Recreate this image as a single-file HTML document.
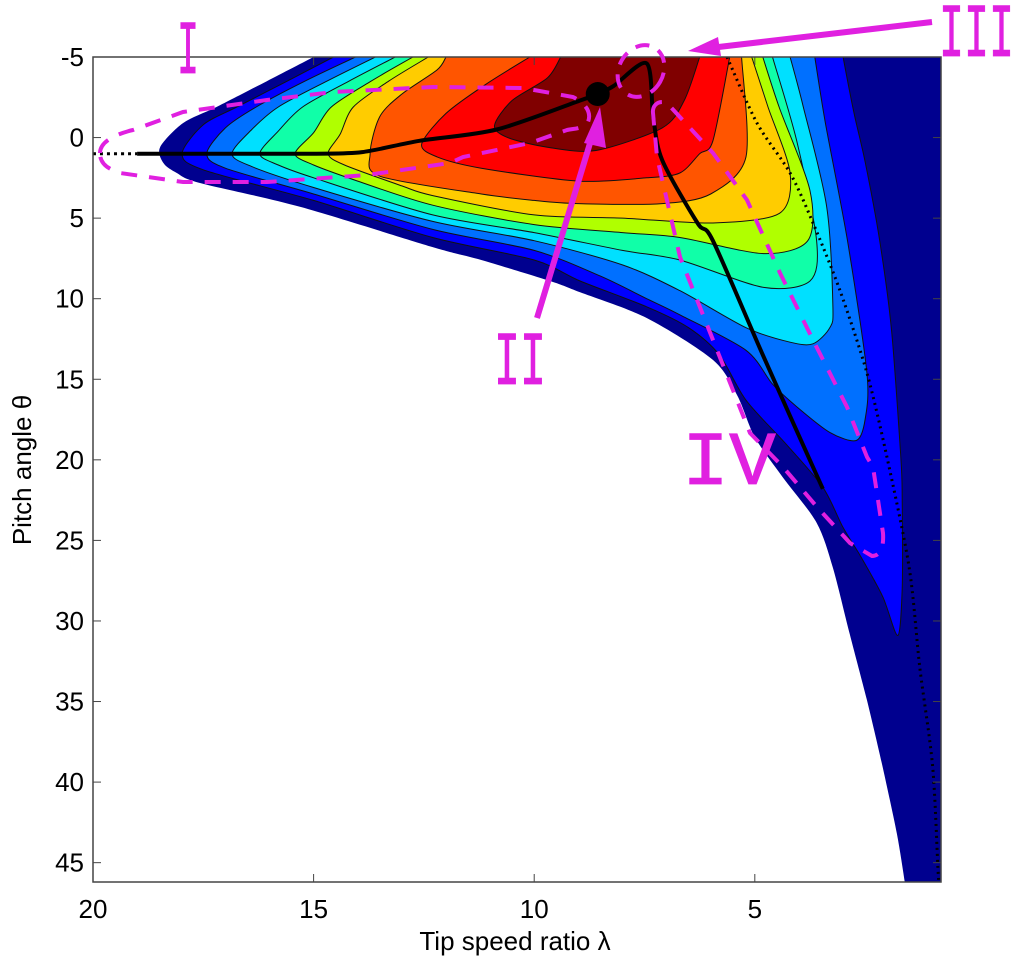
<!DOCTYPE html>
<html><head><meta charset="utf-8">
<style>
html,body{margin:0;padding:0;background:#fff;}
svg{display:block;font-family:"Liberation Sans",Arial,sans-serif;}
</style></head>
<body>
<svg id="chart" width="1031" height="972" viewBox="0 0 1031 972" xmlns="http://www.w3.org/2000/svg">
<defs><clipPath id="plotclip"><rect x="93" y="57" width="848" height="825"/></clipPath></defs>
<rect x="0" y="0" width="1031" height="972" fill="#fff"/>
<g id="bands" clip-path="url(#plotclip)"></g>
<g id="lines" clip-path="url(#plotclip)"></g>
<rect x="93" y="57" width="848" height="825" fill="none" stroke="#444" stroke-width="1.5"/>
<g id="axes"></g>
<g id="annot">
  <path d="M100,153 C100,140 120,133 133,130 L183,112 L267,100 L333,92 L433,87 L523,88 L573,97 C585,103 592,112 588,122 C580,130 575,128 567,130 L530,143 L463,157 L450,163 L367,175 L267,182 L183,182 L120,173 C105,168 100,162 100,153 Z" fill="none" stroke="#E020E0" stroke-width="4" stroke-dasharray="16,12"/>
  <ellipse cx="641" cy="71" rx="22" ry="27" transform="rotate(30 641 71)" fill="none" stroke="#E020E0" stroke-width="4" stroke-dasharray="14,10"/>
  <path d="M653,113 C652,104 660,100 667,103 L713,153 L747,200 L780,273 L813,340 L847,407 L867,457 L873,467 L883,533 C884,548 880,556 872,556 L850,543 L817,507 L783,467 L750,433 L713,340 L680,257 L657,157 Z" fill="none" stroke="#E020E0" stroke-width="4" stroke-dasharray="16,12"/>
  <line x1="932" y1="22" x2="710" y2="48" stroke="#E020E0" stroke-width="6"/>
  <polygon points="688,51 718,37 721,56" fill="#E020E0"/>
  <line x1="537" y1="318" x2="594" y2="130" stroke="#E020E0" stroke-width="6"/>
  <polygon points="600,107 584,143 606,148" fill="#E020E0"/>
  <g font-family="Liberation Mono, monospace" font-size="76" fill="#E020E0" stroke="#E020E0" stroke-width="0.8">
  <text x="177" y="73" textLength="22" lengthAdjust="spacingAndGlyphs">I</text>
  <text x="939" y="56" textLength="75" lengthAdjust="spacingAndGlyphs">III</text>
  <text x="494" y="384" textLength="52" lengthAdjust="spacingAndGlyphs">II</text>
  <text x="682" y="484" textLength="94" lengthAdjust="spacingAndGlyphs">IV</text>
  </g>
</g>
<text x="515" y="950" font-size="26" text-anchor="middle" fill="#000">Tip speed ratio λ</text>
<text transform="translate(31,470) rotate(-90)" font-size="26" text-anchor="middle" fill="#000">Pitch angle θ</text>
</svg>
<script>
// Axis domains
const lambdaMax = 20, lambdaMin = 0.78;
const thetaMin = -5, thetaMax = 46.2;
const xTicks = [20, 15, 10, 5];
const yTicks = [-5, 0, 5, 10, 15, 20, 25, 30, 35, 40, 45];
const bandColors = ["#00008F","#0000FF","#0070FF","#00E0FF","#10FFA8","#B0FF00","#FFCC00","#FF5500","#FF0000","#800000"];
const bandNames = ["navy","blue","azure","cyan","green","yellow-green","gold","orange","red","dark-red"];
// Region {Cp >= level k} boundaries as [lambda, theta]
const band1 = [[15.0,-5],[16.06,-3.5],[17.2,-1.9],[17.96,-0.9],[18.48,0.6],[18.4,1.6],[18.1,2.2],[17.6,2.8],[15.3,4.3],[12.3,6.8],[11.2,7.6],[9.64,8.9],[8.96,9.6],[7.45,11.2],[5.95,13.8],[5.4,16.0],[5.0,18.6],[4.36,21.1],[3.6,23.9],[3.23,26.7],[2.85,30.8],[2.46,34.9],[2.1,39.1],[1.78,43.2],[1.6,46.2],[1.5,48],[0.3,48],[0.3,-6],[15.0,-6]];
const band2 = [[14.55,-5],[15.6,-3.5],[16.74,-1.9],[17.5,-0.8],[17.98,1.0],[17.5,2.0],[15.0,3.9],[12.3,6.2],[10.0,7.6],[8.96,8.9],[7.45,10.5],[6.5,11.8],[5.8,13.5],[5.2,16.3],[4.3,19.0],[3.46,21.7],[3.0,24.2],[2.6,26.0],[2.1,28.5],[1.76,30.9],[1.66,28.0],[1.66,22.5],[1.69,19.9],[1.9,12.0],[2.17,6.4],[2.5,1.5],[2.75,-1.5],[3.0,-5]];
const band3 = [[14.05,-5],[15.2,-3.5],[16.3,-1.9],[17.0,-0.6],[17.42,1.0],[17.0,1.9],[15.0,3.5],[12.3,5.7],[10.0,7.0],[8.5,8.6],[7.45,10.0],[6.7,11.0],[5.2,13.2],[4.6,15.3],[4.05,16.7],[3.3,18.3],[2.7,18.8],[2.5,17.5],[2.46,14.6],[2.9,6.4],[3.4,-0.9],[3.64,-5]];
const band4 = [[13.6,-5],[14.7,-3.5],[15.8,-1.9],[16.4,-0.5],[16.85,1.0],[16.4,1.8],[15.0,3.1],[12.3,5.2],[10.0,6.4],[8.0,7.9],[6.7,9.5],[5.2,11.8],[4.2,12.7],[3.68,12.8],[3.3,11.8],[3.23,10.5],[3.37,4.3],[3.9,-1.9],[4.2,-5]];
const band5 = [[13.15,-5],[14.2,-3.5],[15.25,-1.9],[15.8,-0.4],[16.22,1.0],[15.8,1.7],[15.0,2.5],[12.3,4.8],[10.0,5.9],[8.0,7.0],[6.7,7.6],[4.8,9.3],[3.75,8.9],[3.6,6.4],[4.05,0.2],[4.6,-5]];
const band6 = [[12.75,-5],[13.7,-3.5],[14.6,-1.9],[15.0,-0.3],[15.42,1.0],[15.0,1.7],[14.0,2.7],[12.3,4.2],[10.0,5.4],[8.0,5.9],[6.7,6.2],[4.8,7.2],[3.8,6.4],[3.75,3.3],[4.45,-1.9],[4.82,-5]];
const band7 = [[12.4,-5],[13.3,-3.5],[14.1,-1.9],[14.4,-0.2],[14.67,1.0],[14.3,1.7],[13.0,3.0],[12.3,3.6],[10.0,4.8],[8.0,5.0],[5.95,5.3],[4.44,4.7],[4.2,2.2],[4.7,-1.9],[5.07,-5]];
const band8 = [[12.0,-5],[12.2,-4.2],[13.0,-2.7],[13.5,-1.3],[13.72,1.0],[13.5,2.4],[11.2,3.5],[10.0,3.9],[9.0,4.1],[7.1,4.1],[6.0,3.5],[5.2,1.2],[5.3,-5]];
const band9 = [[10.1,-5],[11.1,-3.3],[12.0,-1.5],[12.55,0.4],[12.2,1.2],[11.2,1.9],[9.0,2.7],[7.45,2.5],[6.7,2.2],[6.25,1.0],[5.95,0.2],[5.57,-5]];
const band10 = [[9.4,-5],[9.7,-3.7],[10.5,-2.3],[10.9,-0.75],[10.6,0.0],[9.7,0.6],[8.6,0.8],[7.1,-0.6],[6.6,-2.3],[6.25,-5]];
const bands = [band1,band2,band3,band4,band5,band6,band7,band8,band9,band10];
// Optimal tracking path and dotted limit curve
const trackPath = [[19.0,1.0],[17.0,1.0],[15.0,1.0],[13.9,0.9],[12.6,0.2],[10.85,-0.5],[8.96,-2.3],[8.56,-2.7],[8.2,-3.2],[7.45,-4.6],[7.3,-1.25],[7.1,1.4],[6.3,5.3],[5.95,6.4],[4.8,13.6],[3.46,21.8]];
const dotLeft = [[20.0,1.0],[19.0,1.0]];
const dotRight = [[5.63,-5],[4.95,-0.9],[4.2,2.2],[3.68,5.3],[3.07,9.5],[2.46,14.6],[2.0,19.9],[1.5,26.7],[1.26,32.9],[0.97,39],[0.85,45.3],[0.83,46.2]];
const optimumPoint = [8.56,-2.7];

const NS = "http://www.w3.org/2000/svg";
function xScale(l){ return 93 + (lambdaMax - l) * (848 / (lambdaMax - lambdaMin)); }
function yScale(t){ return 57 + (t - thetaMin) * (825 / (thetaMax - thetaMin)); }
function smoothPath(pts, closed){
  const p = pts.map(d => [xScale(d[0]), yScale(d[1])]);
  let s = "M" + p[0][0].toFixed(1) + "," + p[0][1].toFixed(1);
  for (let i = 0; i < p.length - 1; i++){
    const p0 = p[Math.max(i-1,0)], p1 = p[i], p2 = p[i+1], p3 = p[Math.min(i+2,p.length-1)];
    const c1 = [p1[0] + (p2[0]-p0[0])/7, p1[1] + (p2[1]-p0[1])/7];
    const c2 = [p2[0] - (p3[0]-p1[0])/7, p2[1] - (p3[1]-p1[1])/7];
    s += " C" + c1[0].toFixed(1) + "," + c1[1].toFixed(1) + " " + c2[0].toFixed(1) + "," + c2[1].toFixed(1) + " " + p2[0].toFixed(1) + "," + p2[1].toFixed(1);
  }
  return s + (closed ? " Z" : "");
}
const gB = document.getElementById("bands");
bands.forEach((b, i) => {
  const path = document.createElementNS(NS, "path");
  path.setAttribute("d", smoothPath(b, true));
  path.setAttribute("fill", bandColors[i]);
  path.setAttribute("stroke", i === 0 ? "none" : "#111");
  path.setAttribute("stroke-width", "1");
  
  
  gB.appendChild(path);
});
const gL = document.getElementById("lines");
function addLine(pts, w, dash, name){
  const path = document.createElementNS(NS, "path");
  path.setAttribute("d", smoothPath(pts, false));
  path.setAttribute("fill", "none");
  path.setAttribute("stroke", "#000");
  path.setAttribute("stroke-width", w);
  if (dash) path.setAttribute("stroke-dasharray", dash);
  
  
  gL.appendChild(path);
}
addLine(trackPath, 4, null, "optimal-tracking-line");
addLine(dotLeft, 3, "3,4", "dotted-limit-left");
addLine(dotRight, 3, "2,4", "dotted-limit-right");
const dot = document.createElementNS(NS, "circle");
dot.setAttribute("cx", xScale(optimumPoint[0]));
dot.setAttribute("cy", yScale(optimumPoint[1]));
dot.setAttribute("r", 12);
dot.setAttribute("fill", "#000");


gL.appendChild(dot);

const gA = document.getElementById("axes");
xTicks.forEach(v => {
  const x = xScale(v);
  [[882, 874], [57, 65]].forEach(yy => {
    const t = document.createElementNS(NS, "line");
    t.setAttribute("x1", x); t.setAttribute("x2", x);
    t.setAttribute("y1", yy[0]); t.setAttribute("y2", yy[1]);
    t.setAttribute("stroke", "#444");
    
    
    gA.appendChild(t);
  });
  const lab = document.createElementNS(NS, "text");
  lab.setAttribute("x", x); lab.setAttribute("y", 918);
  lab.setAttribute("text-anchor", "middle");
  lab.setAttribute("font-size", "26");
  lab.textContent = String(v);
  
  
  gA.appendChild(lab);
});
yTicks.forEach(v => {
  const y = yScale(v);
  [[93, 101], [941, 933]].forEach(xx => {
    const t = document.createElementNS(NS, "line");
    t.setAttribute("x1", xx[0]); t.setAttribute("x2", xx[1]);
    t.setAttribute("y1", y); t.setAttribute("y2", y);
    t.setAttribute("stroke", "#444");
    
    
    gA.appendChild(t);
  });
  const lab = document.createElementNS(NS, "text");
  lab.setAttribute("x", 84); lab.setAttribute("y", y + 9);
  lab.setAttribute("text-anchor", "end");
  lab.setAttribute("font-size", "26");
  lab.textContent = String(v);
  
  
  gA.appendChild(lab);
});
</script>
</body></html>
